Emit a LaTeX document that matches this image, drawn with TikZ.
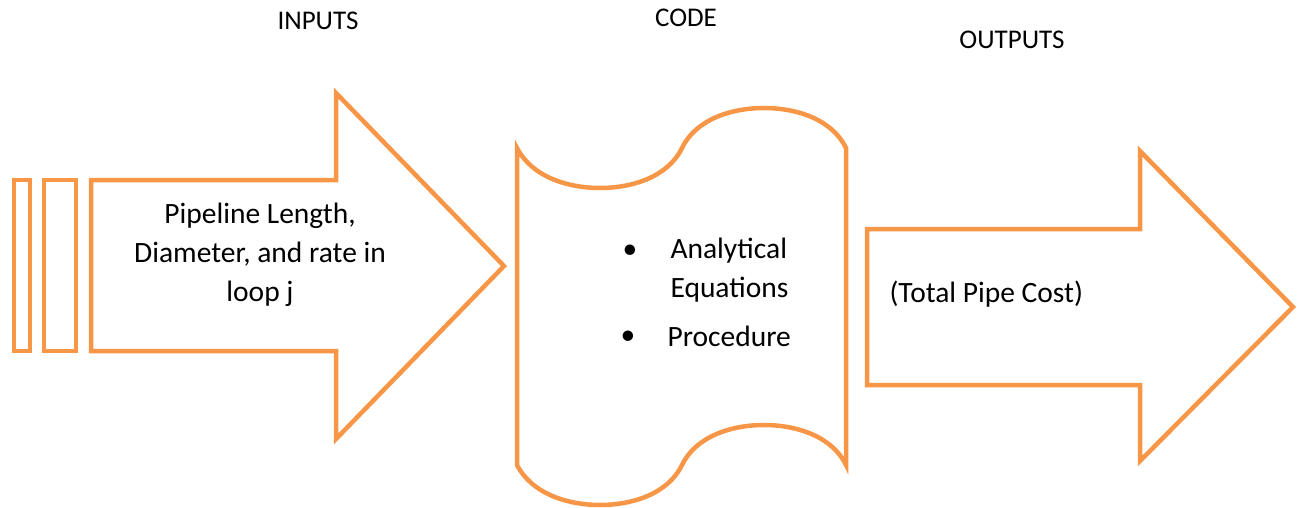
\documentclass[tikz,border=0pt]{standalone}
\usepackage{fontspec}
\setmainfont{Carlito}
\definecolor{orangeline}{HTML}{F79646}
\begin{document}
\begin{tikzpicture}[x=1pt,y=-1pt,
  orangeedge/.style={draw=orangeline,line width=4.5pt},
  heading/.style={font=\fontsize{27}{32}\selectfont},
  txt/.style={font=\fontsize{29.5}{39}\selectfont}]
\useasboundingbox (0,0) rectangle (1298,508);
% input arrow with its two stripes
\draw[orangeedge] (14,180) rectangle (30,351);
\draw[orangeedge] (44,180) rectangle (76,351);
\draw[orangeedge] (91,180) -- (336,180) -- (336,93) -- (504,266) -- (336,439) -- (336,351) -- (91,351) -- cycle;
% code (punched tape)
\draw[orangeedge] (517,148) .. controls (532,177) and (568,188) .. (600,188)
  .. controls (632,188) and (668,177) .. (682,148)
  .. controls (696,119) and (732,108) .. (764,108)
  .. controls (796,108) and (832,119) .. (846,148)
  -- (846,465) .. controls (832,436) and (796,425) .. (764,425)
  .. controls (732,425) and (696,436) .. (682,465)
  .. controls (668,494) and (632,505) .. (600,505)
  .. controls (568,505) and (532,494) .. (517,465) -- cycle;
% output arrow
\draw[orangeedge] (867,229) -- (1140,229) -- (1140,151) -- (1293,307) -- (1140,461) -- (1140,385) -- (867,385) -- cycle;
% headings
\node[heading] (inputs) at (318,21) {INPUTS};
\node[heading] (code) at (686,18) {CODE};
\node[heading] (outputs) at (1012,40) {OUTPUTS};
% texts in the shapes
\node[txt,align=center] (intext) at (260,255) {Pipeline Length,\\Diameter, and rate in\\loop j};
\node[txt] (dota) at (630,252) {\textbullet};
\node[txt,align=left,anchor=north west] (itema) at (667,234) {Analytical\\Equations};
\node[txt] (dotb) at (628,338) {\textbullet};
\node[txt,anchor=west] (itemb) at (664,336) {Procedure};
\node[txt,anchor=west] (outtext) at (886,294) {(Total Pipe Cost)};
\end{tikzpicture}
\end{document}
